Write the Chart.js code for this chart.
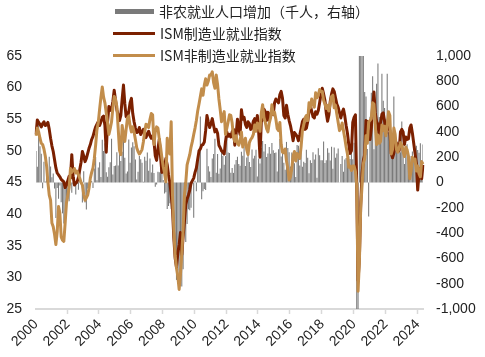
<!DOCTYPE html>
<html>
<head>
<meta charset="utf-8">
<script src="https://cdn.jsdelivr.net/npm/chart.js@4.4.1/dist/chart.umd.min.js"></script>
<style>
html,body{margin:0;padding:0;background:#fff;}
#wrap{position:relative;width:485px;height:357px;overflow:hidden;background:#fff;}
#c{position:absolute;left:0;top:0;}
.lg{position:absolute;font-family:"Noto Sans CJK SC","Noto Sans",sans-serif;font-size:14px;color:#222;line-height:20px;white-space:nowrap;}
.sw{position:absolute;}
</style>
</head>
<body>
<div id="wrap">
  <canvas id="c" width="485" height="357"></canvas>
  <div class="sw" id="sw0" style="left:115px;top:9px;width:39px;height:5px;"></div>
  <div class="lg" id="lg0" style="left:159px;top:1px;"></div>
  <div class="sw" id="sw1" style="left:113px;top:32px;width:42px;height:3px;"></div>
  <div class="lg" id="lg1" style="left:160px;top:23px;"></div>
  <div class="sw" id="sw2" style="left:113px;top:54px;width:42px;height:3px;"></div>
  <div class="lg" id="lg2" style="left:160px;top:45px;"></div>
</div>
<script>
// ---- data ----
const seriesNames = ['非农就业人口增加（千人，右轴）', 'ISM制造业就业指数', 'ISM非制造业就业指数'];
const firstYear = 2000, lastYear = 2024, lastMonth = 5;
const xTickYears = ['2000','2002','2004','2006','2008','2010','2012','2014','2016','2018','2020','2022','2024'];
const leftTicks = {min: 25, max: 65, step: 5};
const rightTicks = {min: -1000, max: 1000, step: 200};

// Nonfarm payroll change, thousands (monthly, Jan 2000 - May 2024)
const payrolls = [
  249,125,472,286,228,-46,164,8,121,1,204,127,
  42,71,-48,-280,-43,-129,-24,-156,-244,-325,-292,-178,
  -133,-148,-24,-82,-9,46,-94,-9,-57,126,8,-158,
  88,-158,-213,-50,-5,-4,12,-44,110,201,18,119,
  161,44,338,249,310,81,45,121,161,346,63,130,
  134,239,134,362,170,243,371,196,71,86,339,157,
  277,318,286,182,23,84,209,183,157,6,204,171,
  238,92,190,79,143,75,-33,-16,85,82,118,97,
  19,-86,-78,-210,-185,-165,-209,-266,-452,-473,-770,-695,
  -791,-703,-823,-686,-351,-470,-329,-212,-219,-200,-7,-279,
  14,-69,163,232,522,-133,-70,-51,-59,266,129,87,
  43,189,225,346,77,225,69,110,248,209,141,209,
  358,237,233,78,115,76,143,177,203,146,132,244,
  211,286,130,197,226,162,122,261,190,212,258,47,
  190,151,272,329,246,304,202,230,280,227,312,255,
  234,238,86,262,344,206,254,157,100,321,272,239,
  126,237,225,153,43,297,291,135,249,124,164,155,
  259,195,73,175,155,239,182,221,38,271,216,175,
  176,324,155,175,270,235,173,282,108,277,196,229,
  269,1,147,210,85,182,194,207,208,185,261,184,
  315,289,-1373,-20477,2833,4846,1726,1583,716,680,264,-268,
  520,710,840,263,447,780,940,517,424,860,647,588,
  504,860,398,368,386,293,680,352,350,324,290,239,
  482,287,146,278,303,240,184,210,246,165,182,290,
  256,236,310,175,300
];

// ISM manufacturing employment index
const ismMfg = [
  52.6,54.9,54.5,54.2,53.8,54.3,54.6,54.0,54.2,54.5,53.4,52.0,
  50.8,49.9,48.6,47.3,46.5,46.2,45.9,45.5,45.3,45.1,44.2,44.6,
  45.3,46.0,45.7,49.4,46.0,44.6,44.9,45.1,45.8,47.0,48.2,49.9,
  49.2,48.3,48.8,49.6,50.4,51.0,51.8,52.3,53.1,53.8,54.2,54.6,
  54.0,54.6,55.3,55.5,54.0,49.8,54.6,57.0,56.4,56.6,57.8,59.6,
  58.0,56.5,55.7,54.8,55.6,58.2,60.4,57.5,55.4,55.3,56.2,57.6,
  58.3,55.9,54.6,53.6,52.9,53.0,53.7,52.6,53.0,53.4,52.8,52.1,
  52.7,53.1,52.4,52.0,52.4,51.5,49.2,48.5,50.3,51.8,49.0,46.6,
  46.8,47.4,48.8,47.8,46.2,45.0,43.0,40.8,36.2,33.0,31.6,33.8,
  35.2,37.1,33.6,36.4,38.8,41.5,42.4,43.0,43.8,44.9,45.3,45.7,
  46.6,47.3,48.7,50.0,50.3,50.9,51.0,51.4,53.2,55.6,54.6,53.7,
  54.3,55.1,54.0,53.0,53.4,52.8,50.9,50.5,50.0,49.8,49.5,51.5,
  53.0,52.3,52.6,52.2,53.0,53.4,50.9,52.6,55.0,53.5,52.6,56.5,
  55.0,55.3,54.2,53.7,54.6,54.3,53.4,53.6,54.7,55.1,53.3,55.6,
  53.0,49.0,54.6,55.0,56.6,56.2,54.8,56.1,54.9,55.8,56.4,55.7,
  57.6,58.2,57.9,57.6,58.9,59.4,58.3,55.6,55.2,57.2,55.8,54.8,
  54.0,52.9,51.6,52.9,52.6,52.3,51.6,52.5,53.5,54.6,55.0,53.4,
  53.6,54.6,56.2,57.2,56.3,55.4,55.2,56.2,55.8,56.4,57.6,58.9,
  59.9,59.0,58.0,56.0,54.7,55.7,57.8,59.0,59.8,59.4,58.4,57.4,
  56.9,56.0,55.2,56.1,56.6,55.5,54.0,52.8,51.0,49.6,50.0,54.5,
  55.3,55.7,44.5,29.5,33.0,41.5,46.5,48.5,49.4,54.8,54.6,52.0,
  51.8,53.6,57.0,59.3,56.0,54.6,54.2,52.3,54.4,55.8,56.0,54.7,
  52.8,53.6,54.0,53.2,49.6,48.9,49.6,51.2,51.2,50.8,50.0,53.0,
  53.4,53.0,51.0,52.2,51.8,51.9,53.6,54.1,52.8,51.2,49.6,48.0,
  43.8,46.5,47.2,45.6,47.8
];

// ISM non-manufacturing (services) employment index
const ismNonMfg = [
  52.4,53.6,53.0,52.0,51.2,51.0,50.3,49.2,47.6,45.0,43.0,42.2,
  38.6,38.0,36.8,35.2,37.2,41.2,40.2,36.4,35.9,35.7,38.6,41.8,
  43.0,44.2,47.2,46.6,46.9,47.2,46.5,46.8,46.2,45.7,45.0,44.6,
  43.1,42.2,42.6,43.0,44.1,45.7,46.6,47.3,48.8,50.9,53.4,54.5,
  56.6,58.5,60.1,58.5,57.6,56.0,54.4,52.6,53.5,54.6,56.8,58.6,
  58.2,57.0,53.6,50.1,49.4,54.0,52.6,51.5,53.4,55.2,55.5,53.9,
  53.0,53.8,53.0,51.8,50.5,49.9,49.5,49.8,50.2,51.4,53.0,54.2,
  54.1,53.7,55.0,55.9,55.7,51.0,53.0,53.8,53.6,51.9,50.6,48.9,
  47.5,46.5,45.1,52.0,50.2,49.5,54.6,43.0,37.5,33.5,31.5,30.2,
  28.1,30.5,33.8,37.6,43.0,45.0,47.8,48.6,49.4,50.6,51.5,52.6,
  53.6,54.8,56.3,57.4,58.6,59.8,58.8,60.4,61.4,60.4,61.0,62.0,
  62.0,62.5,60.8,59.9,62.0,60.5,58.2,56.5,54.6,55.5,56.2,52.6,
  53.6,54.6,55.7,55.6,54.4,52.2,51.5,52.4,51.2,50.9,51.6,53.0,
  50.6,51.4,52.0,50.2,49.4,51.3,51.8,52.1,52.6,54.1,53.1,54.4,
  54.2,53.1,56.0,57.3,55.3,54.5,53.5,53.0,54.4,55.2,57.3,55.8,
  56.1,55.0,53.5,53.2,54.5,51.0,49.8,49.7,50.3,48.4,47.2,45.4,
  45.9,47.2,49.2,49.9,48.4,49.6,49.2,48.8,50.6,53.2,54.1,55.2,
  55.6,54.8,57.6,56.8,58.2,57.4,56.9,59.2,58.4,58.8,59.7,59.4,
  59.4,58.0,57.4,56.7,57.2,56.3,57.5,58.6,58.8,56.8,57.2,55.8,
  54.5,53.2,53.6,54.4,53.2,52.0,50.6,49.5,47.4,47.6,46.9,47.6,
  47.6,46.8,44.5,27.8,32.5,41.0,44.5,48.0,48.8,52.4,51.2,54.6,
  54.8,55.1,57.6,57.4,54.0,51.0,52.5,51.2,51.5,54.1,53.2,53.9,
  52.4,54.0,56.2,55.6,49.5,50.2,53.6,52.6,50.2,49.8,50.5,51.3,
  50.9,49.9,49.1,50.6,50.2,49.2,45.6,46.8,49.0,48.4,48.7,46.8,
  47.6,46.4,45.9,48.3,47.9
];

// ---- categories (months) ----
const months = [];
for (let y = firstYear; y <= lastYear; y++) {
  for (let m = 1; m <= 12; m++) {
    if (y === lastYear && m > lastMonth) break;
    months.push(y + '-' + String(m).padStart(2, '0'));
  }
}

// ---- styles ----
const colBar = '#7a7a7a', colMfg = '#7B2000', colNon = '#C28D4B';
const tickFont = {family: '"Liberation Sans", Arial, sans-serif', size: 14};
const tickColor = '#222';

document.getElementById('sw0').style.background = colBar;
document.getElementById('sw1').style.background = colMfg;
document.getElementById('sw2').style.background = colNon;
document.getElementById('lg0').textContent = seriesNames[0];
document.getElementById('lg1').textContent = seriesNames[1];
document.getElementById('lg2').textContent = seriesNames[2];

function xLabel(i) {
  const l = months[i];
  if (!l) return '';
  const yr = l.slice(0, 4);
  return (l.slice(5) === '01' && xTickYears.includes(yr)) ? yr : '';
}

new Chart(document.getElementById('c'), {
  data: {
    labels: months,
    datasets: [
      {type: 'bar', label: seriesNames[0], data: payrolls, yAxisID: 'y1',
       backgroundColor: colBar, borderWidth: 0, categoryPercentage: 1, barPercentage: 0.8, order: 3},
      {type: 'line', label: seriesNames[1], data: ismMfg, yAxisID: 'y',
       borderColor: colMfg, borderWidth: 3, pointRadius: 0, tension: 0, borderJoinStyle: 'round', order: 2},
      {type: 'line', label: seriesNames[2], data: ismNonMfg, yAxisID: 'y',
       borderColor: colNon, borderWidth: 3, pointRadius: 0, tension: 0, borderJoinStyle: 'round', order: 1}
    ]
  },
  options: {
    responsive: false,
    animation: false,
    locale: 'en-US',
    layout: {padding: {left: 6, right: 8, top: 56, bottom: 0}},
    plugins: {legend: {display: false}, tooltip: {enabled: false}},
    scales: {
      x: {
        type: 'category',
        offset: false,
        grid: {display: true, drawOnChartArea: false, drawTicks: true, tickLength: 5, tickWidth: 1.5,
               tickColor: (ctx) => (ctx.index % 24 === 0 && xLabel(ctx.index)) ? '#d9d9d9' : 'rgba(0,0,0,0)'},
        border: {display: true, color: '#d9d9d9', width: 2},
        ticks: {autoSkip: false, maxRotation: 45, minRotation: 45, font: tickFont, color: tickColor, padding: 2,
                callback: (v, i) => xLabel(i)},
        afterFit: (s) => { s.height = 48; }
      },
      y: {
        position: 'left', min: leftTicks.min, max: leftTicks.max,
        ticks: {stepSize: leftTicks.step, font: tickFont, color: tickColor, padding: 14},
        grid: {display: false, drawTicks: false},
        border: {display: false},
        afterFit: (s) => { s.width = 30; }
      },
      y1: {
        position: 'right', min: rightTicks.min, max: rightTicks.max,
        ticks: {stepSize: rightTicks.step, font: tickFont, color: tickColor, padding: 13},
        grid: {display: false, drawTicks: false},
        border: {display: false},
        afterFit: (s) => { s.width = 54; }
      }
    }
  }
});
</script>
</body>
</html>
